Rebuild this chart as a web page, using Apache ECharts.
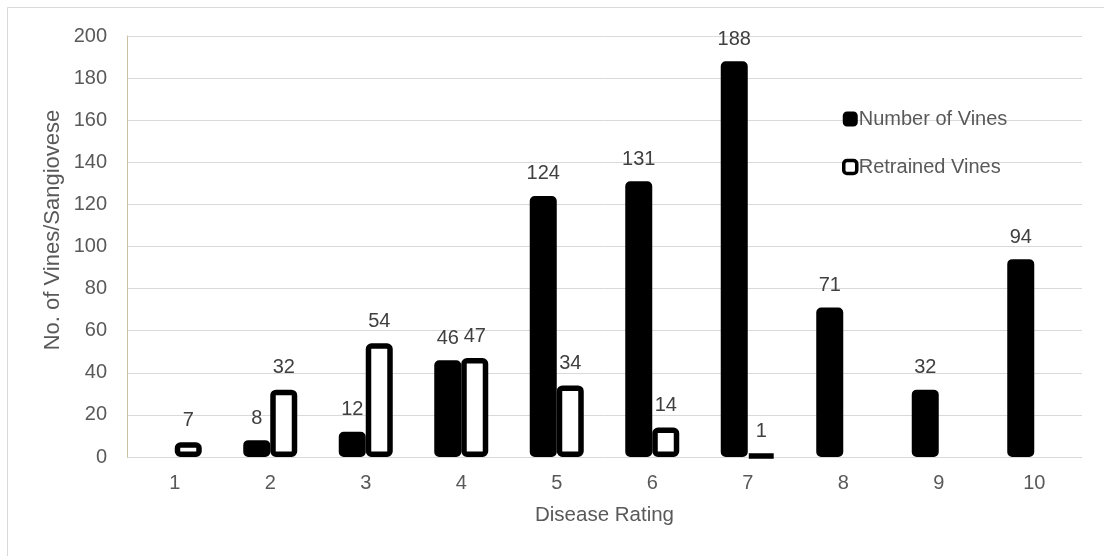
<!DOCTYPE html>
<html>
<head>
<meta charset="utf-8">
<script src="https://cdn.jsdelivr.net/npm/echarts@6/dist/echarts.min.js"></script>
<style>html,body{margin:0;padding:0;background:#fff}#c{width:1104px;height:556px}</style>
</head>
<body>
<div id="c"></div>
<script>
var categories = ['1','2','3','4','5','6','7','8','9','10'];
var numberOfVines = [null, 8, 12, 46, 124, 131, 188, 71, 32, 94];
var retrainedVines = [7, 32, 54, 47, 34, 14, 1, null, null, null];
var yTicks = {min: 0, max: 200, interval: 20};
var yTitle = 'No. of Vines/Sangiovese';
var xTitle = 'Disease Rating';

var chart = echarts.init(document.getElementById('c'));
var font = 'Liberation Sans, Arial, sans-serif';
chart.setOption({
  animation: false,
  graphic: [
    {type: 'line', shape: {x1: 7.5, y1: 7.5, x2: 7.5, y2: 556}, style: {stroke: '#d9d9d9', lineWidth: 1}},
    {type: 'line', shape: {x1: 7.5, y1: 7.5, x2: 1104, y2: 7.5}, style: {stroke: '#d9d9d9', lineWidth: 1}},
    {type: 'text', x: 53, y: 230, rotation: Math.PI / 2,
     style: {text: yTitle, font: '22px ' + font, fill: '#595959', textAlign: 'center', textVerticalAlign: 'middle'}}
  ],
  grid: {left: 127, right: 22, top: 36, bottom: 99},
  legend: {
    orient: 'vertical',
    left: 842, top: 109, padding: 0,
    itemWidth: 13, itemHeight: 13, itemGap: 28,
    textStyle: {fontFamily: font, fontSize: 20, color: '#595959', padding: [0,0,0,-3]},
    data: [
      {name: 'Number of Vines', itemStyle: {color: '#000', borderColor: '#000', borderWidth: 2}},
      {name: 'Retrained Vines', itemStyle: {color: '#fff', borderColor: '#000', borderWidth: 3.5}}
    ]
  },
  xAxis: {
    type: 'category',
    data: categories,
    name: xTitle,
    nameLocation: 'middle',
    nameGap: 48,
    nameTextStyle: {fontFamily: font, fontSize: 20.5, color: '#595959'},
    axisLine: {show: false},
    axisTick: {show: false},
    axisLabel: {fontFamily: font, fontSize: 20, color: '#595959', margin: 16}
  },
  yAxis: {
    type: 'value',
    min: yTicks.min, max: yTicks.max, interval: yTicks.interval,
    axisLine: {show: true, lineStyle: {color: '#c9c19e', width: 1}},
    axisTick: {show: false},
    axisLabel: {fontFamily: font, fontSize: 20, color: '#595959', margin: 20},
    splitLine: {lineStyle: {color: '#d9d9d9', width: 1}}
  },
  series: [
    {
      name: 'Number of Vines',
      type: 'bar',
      data: numberOfVines,
      barWidth: 27,
      barGap: '0%',
      itemStyle: {color: '#000', borderColor: '#000', borderWidth: 4, borderRadius: 3},
      label: {show: true, position: 'top', distance: 12, fontFamily: font, fontSize: 20, color: '#404040'}
    },
    {
      name: 'Retrained Vines',
      type: 'bar',
      data: retrainedVines,
      barWidth: 27,
      itemStyle: {color: '#fff', borderColor: '#000', borderWidth: 5.5, borderRadius: 3},
      label: {show: true, position: 'top', distance: 12, fontFamily: font, fontSize: 20, color: '#404040'}
    }
  ]
});
</script>
</body>
</html>
